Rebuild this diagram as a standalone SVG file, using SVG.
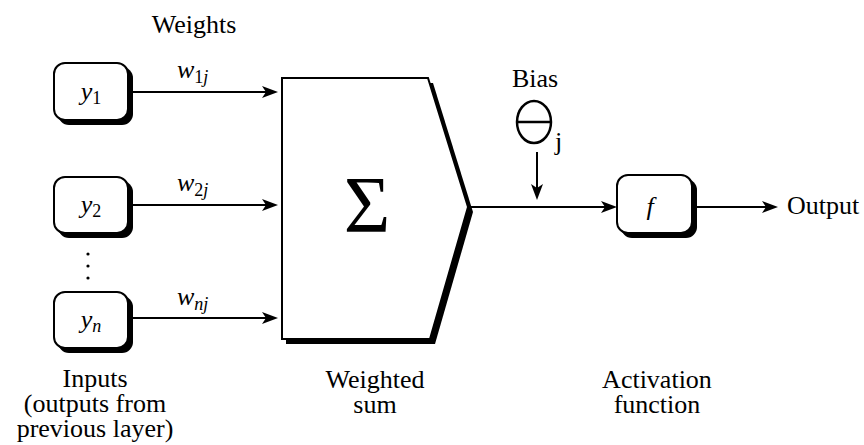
<svg xmlns="http://www.w3.org/2000/svg" width="864" height="445" viewBox="0 0 864 445">
<rect width="864" height="445" fill="#fff"/>
<text x="194" y="33" text-anchor="middle" font-family="Liberation Serif" font-size="26">Weights</text>

<g id="node-y1">
<rect x="58" y="67" width="75" height="58" rx="11" fill="#000"/>
<rect x="54" y="63" width="74" height="57" rx="11" fill="#fff" stroke="#000" stroke-width="2"/>
<text x="91" y="100" text-anchor="middle" font-family="Liberation Serif" font-size="26"><tspan font-style="italic">y</tspan><tspan font-size="18" dy="4">1</tspan></text>
</g>
<g id="node-y2">
<rect x="58" y="181" width="75" height="57" rx="11" fill="#000"/>
<rect x="54" y="177" width="74" height="56" rx="11" fill="#fff" stroke="#000" stroke-width="2"/>
<text x="91" y="213" text-anchor="middle" font-family="Liberation Serif" font-size="26"><tspan font-style="italic">y</tspan><tspan font-size="18" dy="4">2</tspan></text>
</g>
<g id="dots">
<circle cx="88" cy="254" r="1.6"/>
<circle cx="88" cy="266" r="1.6"/>
<circle cx="88" cy="278" r="1.6"/>
</g>
<g id="node-yn">
<rect x="58" y="296" width="75" height="57" rx="11" fill="#000"/>
<rect x="54" y="292" width="74" height="56" rx="11" fill="#fff" stroke="#000" stroke-width="2"/>
<text x="91" y="328" text-anchor="middle" font-family="Liberation Serif" font-size="26"><tspan font-style="italic">y</tspan><tspan font-style="italic" font-size="18" dy="4">n</tspan></text>
</g>
<text x="95" y="387" text-anchor="middle" font-family="Liberation Serif" font-size="26">Inputs</text>
<text x="95" y="412" text-anchor="middle" font-family="Liberation Serif" font-size="26">(outputs from</text>
<text x="95" y="437" text-anchor="middle" font-family="Liberation Serif" font-size="26">previous layer)</text>

<g id="node-sum">
<polygon points="286,83 433,83 473,212 435,344 286,344" fill="#000"/>
<polygon points="282,78 428,78 468,207 430,339 282,339" fill="#fff" stroke="#000" stroke-width="2"/>
<text x="367" y="232" text-anchor="middle" font-family="Liberation Serif" font-size="80">Σ</text>
</g>
<text x="375" y="388" text-anchor="middle" font-family="Liberation Serif" font-size="26">Weighted</text>
<text x="375" y="413" text-anchor="middle" font-family="Liberation Serif" font-size="26">sum</text>

<g id="node-bias">
<text x="535" y="87" text-anchor="middle" font-family="Liberation Serif" font-size="26">Bias</text>
<ellipse cx="534" cy="122" rx="17" ry="21" fill="none" stroke="#000" stroke-width="2.5"/>
<line x1="517" y1="122" x2="551" y2="122" stroke="#000" stroke-width="2.5"/>
<text x="555" y="150" font-family="Liberation Serif" font-size="26">j</text>
</g>

<g id="node-f">
<rect x="621" y="179" width="76" height="59" rx="11" fill="#000"/>
<rect x="617" y="175" width="75" height="58" rx="11" fill="#fff" stroke="#000" stroke-width="2"/>
<text x="650" y="215" text-anchor="middle" font-family="Liberation Serif" font-size="26" font-style="italic">f</text>
</g>
<text x="657" y="388" text-anchor="middle" font-family="Liberation Serif" font-size="26">Activation</text>
<text x="657" y="413" text-anchor="middle" font-family="Liberation Serif" font-size="26">function</text>

<g id="connectors" stroke="#000" stroke-width="2">
<line x1="128" y1="92" x2="266" y2="92"/>
<polygon points="262,86 278,92 262,98 266,92" fill="#000" stroke="none"/>
<line x1="128" y1="205" x2="266" y2="205"/>
<polygon points="262,199 278,205 262,211 266,205" fill="#000" stroke="none"/>
<line x1="128" y1="318" x2="266" y2="318"/>
<polygon points="262,312 278,318 262,324 266,318" fill="#000" stroke="none"/>
<line x1="468" y1="207" x2="605" y2="207"/>
<polygon points="601,201 617,207 601,213 605,207" fill="#000" stroke="none"/>
<line x1="537" y1="152" x2="537" y2="188"/>
<polygon points="531,184 537,200 543,184 537,188" fill="#000" stroke="none"/>
<line x1="692" y1="207" x2="766" y2="207"/>
<polygon points="762,201 778,207 762,213 766,207" fill="#000" stroke="none"/>
</g>
<g id="labels">
<text x="177" y="78" font-family="Liberation Serif" font-size="26"><tspan font-style="italic">w</tspan><tspan font-size="18" dy="5">1</tspan><tspan font-style="italic" font-size="18">j</tspan></text>
<text x="177" y="191" font-family="Liberation Serif" font-size="26"><tspan font-style="italic">w</tspan><tspan font-size="18" dy="5">2</tspan><tspan font-style="italic" font-size="18">j</tspan></text>
<text x="177" y="305" font-family="Liberation Serif" font-size="26"><tspan font-style="italic">w</tspan><tspan font-style="italic" font-size="18" dy="5">nj</tspan></text>
<text x="787" y="214" font-family="Liberation Serif" font-size="26">Output</text>
</g>
</svg>
